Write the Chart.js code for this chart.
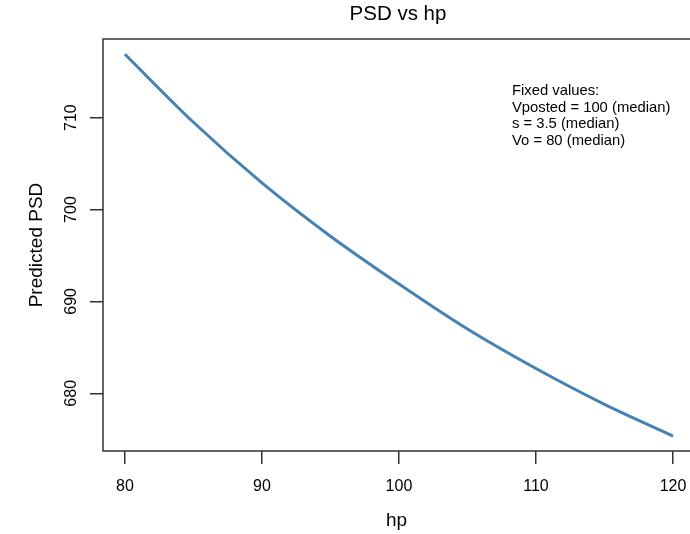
<!DOCTYPE html>
<html lang="en">
<head>
    <meta charset="UTF-8">
    <title>PSD vs hp</title>
    <script src="https://cdn.jsdelivr.net/npm/chart.js"></script>
    <style>
        html, body {
            margin: 0;
            padding: 0;
            background: #fff;
            overflow: hidden;
        }
        canvas {
            display: block;
        }
    </style>
</head>
<body>
    <canvas id="psdChart" width="690" height="534"></canvas>

    <script>
        // values
        var hp = [80, 85, 90, 95, 100, 105, 110, 115, 120];
        var psd = [716.9, 709.5, 702.9, 697.1, 691.9, 687.0, 682.7, 678.8, 675.35];
        var xTicks = [80, 90, 100, 110, 120];
        var yTicks = [680, 690, 700, 710];
        var notes = ['Fixed values:', 'Vposted = 100 (median)', 's = 3.5 (median)', 'Vo = 80 (median)'];

        var font = "'Liberation Sans', Arial, sans-serif";
        var ink = '#333';

        // R style extras: box (right side is cut off in the original), main title,
        // rotated y labels, text note
        var rPlot = {
            id: 'rPlot',
            afterDraw: function (chart) {
                var ctx = chart.ctx;
                var a = chart.chartArea;
                var y = chart.scales.y;
                ctx.save();
                ctx.strokeStyle = ink;
                ctx.lineWidth = 1.5;
                ctx.beginPath();
                ctx.moveTo(a.right + 2, a.top);
                ctx.lineTo(a.left, a.top);
                ctx.lineTo(a.left, a.bottom);
                ctx.lineTo(a.right + 2, a.bottom);
                ctx.stroke();

                ctx.fillStyle = '#000';
                ctx.font = '20.5px ' + font;
                ctx.textAlign = 'center';
                ctx.textBaseline = 'middle';
                ctx.fillText('PSD vs hp', 398, 14);

                ctx.font = '16px ' + font;
                y.ticks.forEach(function (t) {
                    ctx.save();
                    ctx.translate(72, y.getPixelForValue(t.value));
                    ctx.rotate(-Math.PI / 2);
                    ctx.fillText(String(t.value), 0, 0);
                    ctx.restore();
                });

                ctx.font = '14.8px ' + font;
                ctx.textAlign = 'left';
                notes.forEach(function (s, i) {
                    ctx.fillText(s, 512, 91 + i * 16.6);
                });
                ctx.restore();
            }
        };

        var ctxPsd = document.getElementById('psdChart').getContext('2d');
        var psdChart = new Chart(ctxPsd, {
            type: 'line',
            data: {
                labels: hp,
                datasets: [{
                    data: hp.map(function (h, i) { return {x: h, y: psd[i]}; }),
                    borderColor: '#4682B4',
                    borderWidth: 3,
                    pointRadius: 0,
                    fill: false,
                    cubicInterpolationMode: 'monotone'
                }]
            },
            options: {
                responsive: false,
                animation: false,
                layout: {
                    padding: {left: 25, right: 0, top: 39, bottom: 2}
                },
                plugins: {
                    legend: {display: false},
                    tooltip: {enabled: false}
                },
                scales: {
                    x: {
                        type: 'linear',
                        min: 78.4,
                        max: 121.24,
                        afterBuildTicks: function (s) {
                            s.ticks = xTicks.map(function (v) { return {value: v}; });
                        },
                        afterFit: function (s) {
                            s.height = 81;
                            s.paddingRight = 0;
                        },
                        grid: {
                            drawOnChartArea: false,
                            tickLength: 13,
                            color: ink,
                            lineWidth: 1.5
                        },
                        border: {display: false},
                        ticks: {
                            color: '#000',
                            padding: 13,
                            maxRotation: 0,
                            font: {family: font, size: 16}
                        },
                        title: {
                            display: true,
                            text: 'hp',
                            color: '#000',
                            padding: 0,
                            font: {family: font, size: 19}
                        }
                    },
                    y: {
                        min: 673.72,
                        max: 718.56,
                        afterBuildTicks: function (s) {
                            s.ticks = yTicks.map(function (v) { return {value: v}; });
                        },
                        afterFit: function (s) { s.width = 78; },
                        grid: {
                            drawOnChartArea: false,
                            tickLength: 13,
                            color: ink,
                            lineWidth: 1.5
                        },
                        border: {display: false},
                        ticks: {display: false},
                        title: {
                            display: true,
                            text: 'Predicted PSD',
                            color: '#000',
                            padding: 0,
                            font: {family: font, size: 19}
                        }
                    }
                }
            },
            plugins: [rPlot]
        });
    </script>
</body>
</html>
